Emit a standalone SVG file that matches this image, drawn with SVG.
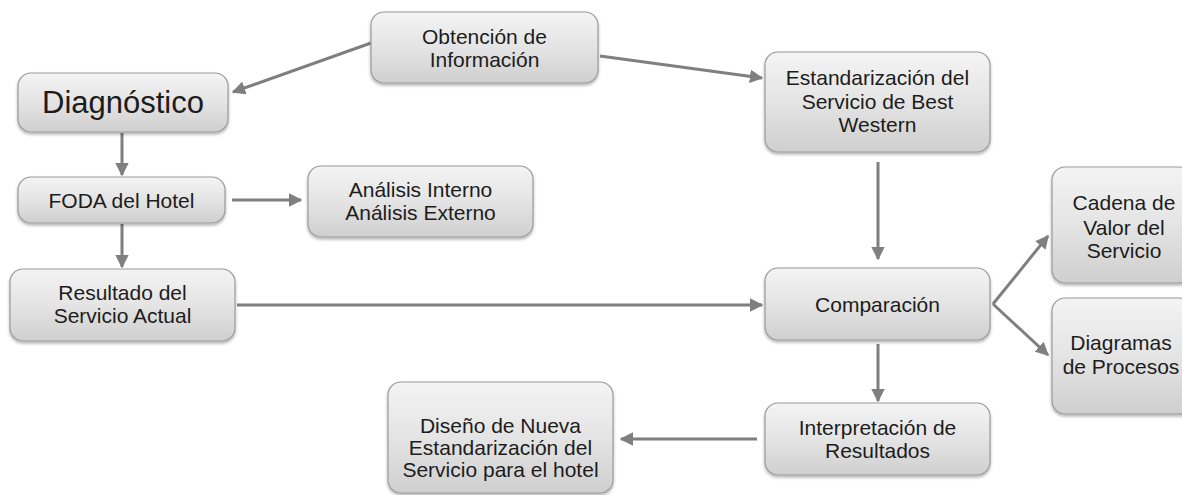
<svg xmlns="http://www.w3.org/2000/svg" width="1182" height="495" viewBox="0 0 1182 495">
<style>
.box{fill:url(#g);stroke:#9a9a9a;stroke-width:1.2;filter:url(#sh)}
.t{font-family:"Liberation Sans",Arial,sans-serif;font-size:21px;fill:#1c1c1c;text-anchor:middle}
.big{font-size:31px}
.c{stroke:#7f7f7f;stroke-width:3;fill:none;marker-end:url(#ah)}
</style>
<defs>
<linearGradient id="g" x1="0" y1="0" x2="0" y2="1">
<stop offset="0" stop-color="#f4f4f4"/>
<stop offset="0.5" stop-color="#e4e4e4"/>
<stop offset="1" stop-color="#cfcfcf"/>
</linearGradient>
<filter id="sh" x="-10%" y="-10%" width="120%" height="130%">
<feDropShadow dx="0" dy="2" stdDeviation="1.5" flood-color="#000" flood-opacity="0.3"/>
</filter>
<marker id="ah" viewBox="0 0 10 10" refX="9" refY="5" markerWidth="4.5" markerHeight="4.5" orient="auto" markerUnits="strokeWidth">
<path d="M0,0 L10,5 L0,10 z" fill="#7f7f7f"/>
</marker>
</defs>
<rect width="1182" height="495" fill="#fff"/>
<g id="connectors">
<line class="c" x1="371" y1="43" x2="233" y2="92"/>
<line class="c" x1="600" y1="56" x2="762" y2="78"/>
<line class="c" x1="122" y1="133" x2="122" y2="175"/>
<line class="c" x1="232" y1="200" x2="301" y2="200"/>
<line class="c" x1="122" y1="224" x2="122" y2="267"/>
<line class="c" x1="237" y1="305" x2="762" y2="305"/>
<line class="c" x1="878" y1="162" x2="878" y2="259"/>
<line class="c" x1="993" y1="304" x2="1048" y2="236"/>
<line class="c" x1="993" y1="304" x2="1048" y2="355"/>
<line class="c" x1="878" y1="344" x2="878" y2="401"/>
<line class="c" x1="757" y1="439" x2="621" y2="439"/>
</g>
<g id="obtencion"><rect class="box" x="371" y="12" width="227" height="71" rx="13"/><text class="t" x="484.5" y="44">Obtención de</text><text class="t" x="484.5" y="67">Información</text></g>
<g id="diagnostico"><rect class="box" x="18" y="73" width="210" height="59" rx="13"/><text class="t big" x="123" y="113">Diagnóstico</text></g>
<g id="foda"><rect class="box" x="18" y="177" width="207" height="46" rx="13"/><text class="t" x="121.5" y="208">FODA del Hotel</text></g>
<g id="analisis"><rect class="box" x="308" y="166" width="225" height="71" rx="13"/><text class="t" x="420.5" y="197">Análisis Interno</text><text class="t" x="420.5" y="220">Análisis Externo</text></g>
<g id="resultado"><rect class="box" x="10" y="269" width="225" height="72" rx="13"/><text class="t" x="122.5" y="300">Resultado del</text><text class="t" x="122.5" y="323">Servicio Actual</text></g>
<g id="estandarizacion"><rect class="box" x="765" y="52" width="225" height="100" rx="13"/><text class="t" x="877.5" y="85">Estandarización del</text><text class="t" x="877.5" y="109">Servicio de Best</text><text class="t" x="877.5" y="132">Western</text></g>
<g id="comparacion"><rect class="box" x="765" y="268" width="225" height="72" rx="13"/><text class="t" x="877.5" y="312">Comparación</text></g>
<g id="interpretacion"><rect class="box" x="765" y="403" width="225" height="72" rx="13"/><text class="t" x="877.5" y="435">Interpretación de</text><text class="t" x="877.5" y="458">Resultados</text></g>
<g id="cadena"><rect class="box" x="1052" y="167" width="140" height="116" rx="13"/><text class="t" x="1124" y="210">Cadena de</text><text class="t" x="1124" y="235">Valor del</text><text class="t" x="1124" y="258">Servicio</text></g>
<g id="diagramas"><rect class="box" x="1052" y="298" width="140" height="116" rx="13"/><text class="t" x="1121" y="350">Diagramas</text><text class="t" x="1121" y="374">de Procesos</text></g>
<g id="diseno"><rect class="box" x="388" y="382" width="225" height="111" rx="13"/><text class="t" x="500.5" y="433">Diseño de Nueva</text><text class="t" x="500.5" y="455">Estandarización del</text><text class="t" x="500.5" y="477">Servicio para el hotel</text></g>
</svg>
